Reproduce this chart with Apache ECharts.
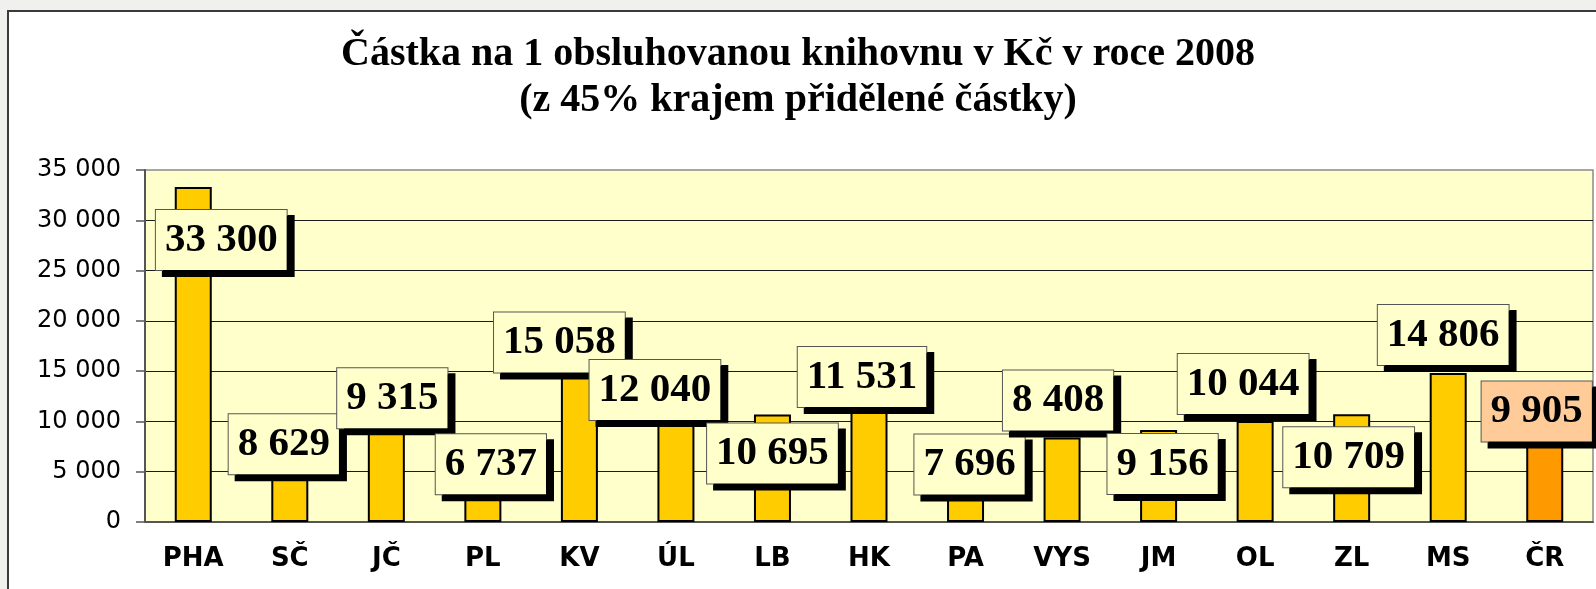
<!DOCTYPE html>
<html>
<head>
<meta charset="utf-8">
<script src="https://cdn.jsdelivr.net/npm/echarts@6/dist/echarts.min.js"></script>
<style>
  html, body { margin: 0; padding: 0; background: #f0f0ee; }
  #frame { position: absolute; left: 7px; top: 10px; width: 1620px; height: 620px; background: #fff; border: 2px solid #3a3a3a; }
  #chart { position: absolute; left: 0; top: 0; width: 1596px; height: 589px; }
</style>
</head>
<body>
<div id="frame"></div>
<div id="chart"></div>
<script>
const categories = ["PHA", "SČ", "JČ", "PL", "KV", "ÚL", "LB", "HK", "PA", "VYS", "JM", "OL", "ZL", "MS", "ČR"];
const values = [33300, 8629, 9315, 6737, 15058, 12040, 10695, 11531, 7696, 8408, 9156, 10044, 10709, 14806, 9905];
const yMin = 0;
const yMax = 35000;
const yStep = 5000;

// where each value box sits, relative to the top of its bar (px)
const labelOffsets = [
  [28, 53], [-6, 9], [6, -30], [8, 10], [-20, -28], [-21, -11], [0, 39], [-7, -29],
  [4, 20], [-4, -37], [4, 34], [-12, -37], [-3, 43], [-5, -38], [-8, -11],
];

const fmt = (v) => String(v).replace(/\B(?=(\d{3})+(?!\d))/g, " ");

const myChart = echarts.init(document.getElementById("chart"));

const data = values.map((v, i) => {
  const last = i === values.length - 1;
  return {
    value: v,
    itemStyle: { color: last ? "#FF9900" : "#FFCC00" },
    label: {
      offset: labelOffsets[i],
      backgroundColor: last ? "#FFCC99" : "#FFFFCC",
    },
  };
});

const option = {
  backgroundColor: "transparent",
  animation: false,
  title: {
    text: "Částka na 1 obsluhovanou knihovnu v Kč v roce 2008\n(z 45% krajem přidělené částky)",
    left: "center",
    top: 32,
    padding: [0, 0, 0, 23],
    textStyle: {
      fontFamily: "Liberation Serif",
      fontWeight: "bold",
      fontSize: 40,
      lineHeight: 46,
      color: "#000",
    },
  },
  grid: {
    left: 145,
    right: 3,
    top: 170,
    bottom: 67,
    show: true,
    backgroundColor: "#FFFFCC",
    borderColor: "#8a8a8a",
    borderWidth: 1.5,
  },
  xAxis: {
    type: "category",
    data: categories,
    axisLine: { lineStyle: { color: "#555", width: 2 } },
    axisTick: { length: 8, lineStyle: { color: "#555", width: 1.5 } },
    axisLabel: {
      interval: 0,
      margin: 24,
      color: "#000",
      fontFamily: "DejaVu Sans",
      fontWeight: "bold",
      fontSize: 26,
    },
  },
  yAxis: {
    type: "value",
    min: yMin,
    max: yMax,
    interval: yStep,
    axisLine: { show: true, lineStyle: { color: "#555", width: 2 } },
    axisTick: { show: true, length: 9, lineStyle: { color: "#555", width: 1.5 } },
    axisLabel: {
      margin: 24,
      color: "#000",
      fontFamily: "DejaVu Sans",
      fontSize: 24,
      formatter: fmt,
    },
    splitLine: {
      show: true,
      showMinLine: false,
      showMaxLine: false,
      lineStyle: { color: "#1a1a1a", width: 1 },
    },
  },
  series: [
    {
      type: "bar",
      data: data,
      barWidth: 37,
      itemStyle: { borderColor: "#000", borderWidth: 2 },
      label: {
        show: true,
        position: "top",
        distance: 0,
        align: "center",
        verticalAlign: "middle",
        formatter: (p) => fmt(p.value),
        fontFamily: "Liberation Serif",
        fontWeight: "bold",
        fontSize: 41,
        lineHeight: 40,
        color: "#000",
        padding: [10, 9],
        borderColor: "#555",
        borderWidth: 1,
        shadowColor: "#000",
        shadowBlur: 0,
        shadowOffsetX: 7,
        shadowOffsetY: 6,
      },
    },
  ],
};

myChart.setOption(option);
</script>
</body>
</html>
